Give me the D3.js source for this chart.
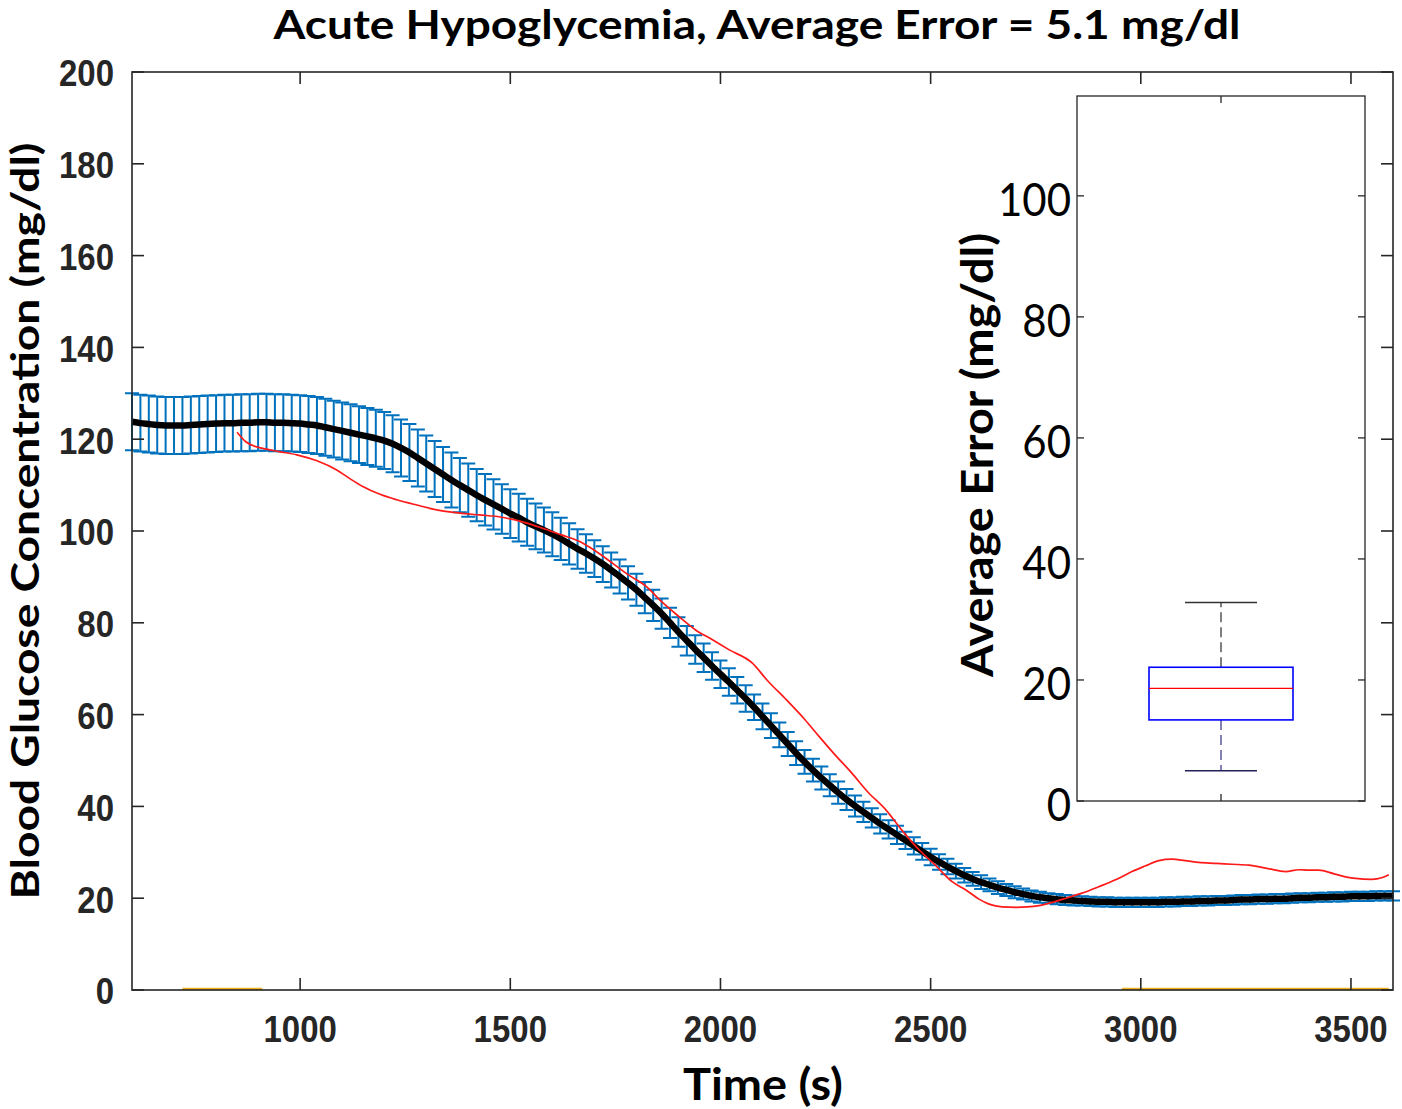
<!DOCTYPE html>
<html><head><meta charset="utf-8">
<script src="https://cdn.jsdelivr.net/npm/d3@7"></script>
<style>body{margin:0;background:#fff}</style>
</head><body><svg id="c" width="1402" height="1109"></svg>
<script>
// ---- data ----
const timeStart = 600, timeStep = 20; // sampling of the mean/error series (s)
const meanGlucose = [
 123.8,123.5,123.3,123.1,123.0,123.0,123.0,123.1,123.2,123.3,
 123.4,123.5,123.5,123.6,123.6,123.7,123.7,123.6,123.6,123.5,
 123.4,123.2,123.0,122.6,122.2,121.8,121.4,121.0,120.6,120.2,
 119.7,119.0,118.1,117.1,115.9,114.7,113.5,112.3,111.1,110.0,
 108.9,107.8,106.8,105.8,104.8,103.8,102.9,101.9,101.0,100.2,
 99.3,98.3,97.2,96.1,95.1,94.0,92.8,91.5,90.1,88.7,
 87.2,85.5,83.8,82.0,80.0,78.0,76.1,74.2,72.4,70.6,
 68.8,67.1,65.3,63.5,61.6,59.6,57.6,55.6,53.6,51.6,
 49.7,47.9,46.2,44.6,43.0,41.5,40.1,38.8,37.5,36.2,
 35.0,33.8,32.6,31.4,30.2,29.0,27.9,26.9,25.9,25.0,
 24.2,23.5,22.9,22.3,21.8,21.3,20.9,20.5,20.2,20.0,
 19.8,19.6,19.5,19.4,19.3,19.2,19.2,19.1,19.1,19.1,
 19.1,19.1,19.1,19.2,19.2,19.3,19.3,19.4,19.4,19.5,
 19.5,19.6,19.7,19.7,19.8,19.8,19.9,19.9,20.0,20.1,
 20.1,20.2,20.2,20.3,20.3,20.4,20.4,20.4,20.5,20.5,
 20.5];
const errorHalf = [
 6.2,6.2,6.2,6.2,6.2,6.2,6.2,6.2,6.2,6.2,
 6.2,6.2,6.2,6.2,6.2,6.2,6.2,6.2,6.2,6.2,
 6.2,6.2,6.2,6.2,6.2,6.2,6.2,6.2,6.2,6.2,
 6.2,6.2,6.2,6.2,6.2,6.1,6.1,6.0,6.0,5.9,
 5.8,5.7,5.6,5.5,5.4,5.3,5.2,5.1,5.0,4.9,
 4.8,4.6,4.5,4.3,4.2,4.0,3.9,3.8,3.7,3.6,
 3.5,3.4,3.4,3.3,3.3,3.2,3.2,3.1,3.1,3.0,
 3.0,3.0,2.9,2.9,2.8,2.8,2.7,2.7,2.6,2.6,
 2.6,2.5,2.5,2.4,2.4,2.3,2.3,2.2,2.1,2.1,
 2.0,2.0,1.9,1.9,1.8,1.8,1.7,1.7,1.6,1.6,
 1.5,1.5,1.4,1.4,1.3,1.3,1.2,1.2,1.2,1.1,
 1.1,1.1,1.1,1.0,1.0,1.0,1.0,1.0,1.0,1.0,
 1.0,1.0,1.0,1.0,1.0,1.0,1.0,1.0,1.0,1.0,
 1.0,1.0,1.0,1.0,1.0,1.0,1.0,1.0,1.0,1.0,
 1.0,1.0,1.0,1.0,1.0,1.0,1.0,1.0,1.0,1.0,
 1.0];
const refTimes = [850,870,890,911,950,992,1040,1087,1120,1149,1190,1230,1280,1325,1380,1427,1480,1529,1580,1620,1665,1700,1743,1780,1824,1860,1902,1940,1981,2021,2076,2110,2157,2200,2235,2270,2313,2350,2394,2430,2473,2510,2551,2584,2615,2639,2670,2703,2730,2758,2790,2822,2860,2900,2940,2979,3010,3043,3074,3105,3138,3180,3216,3257,3300,3345,3376,3400,3423,3460,3490,3511,3549,3575,3590];
const refGlucose = [121.5,119.5,118.5,118.0,117.3,116.6,115.3,113.3,111.3,109.7,108.0,106.8,105.6,104.6,103.9,103.5,103.0,102.0,100.5,99.2,97.7,95.8,93.0,90.5,87.9,84.6,81.3,78.5,76.3,74.1,71.2,67.6,63.2,59.0,55.2,51.5,47.2,43.2,39.2,35.0,30.5,27.3,23.6,21.8,19.8,18.7,18.1,18.0,18.1,18.4,19.1,20.0,21.1,22.5,24.0,25.8,27.0,28.2,28.5,28.2,27.8,27.6,27.4,27.2,26.5,25.8,26.2,26.1,26.1,25.3,24.6,24.3,24.1,24.5,25.1];
const flagSegments = [[720, 910], [2955, 3590]];
const xTicks = [1000, 1500, 2000, 2500, 3000, 3500];
const yTicks = [0, 20, 40, 60, 80, 100, 120, 140, 160, 180, 200];
const insetTicks = [0, 20, 40, 60, 80, 100];
const boxLowerWhisker = 5.0, boxQ1 = 13.4, boxMedian = 18.6, boxQ3 = 22.1, boxUpperWhisker = 32.8;

const titleText = "Acute Hypoglycemia, Average Error = 5.1 mg/dl";
const xLabel = "Time (s)";
const yLabel = "Blood Glucose Concentration (mg/dl)";
const insetYLabel = "Average Error (mg/dl)";

// ---- drawing ----
const svg = d3.select("#c");
const L = 132, R = 1393, T = 72, B = 990;
const x = d3.scaleLinear([600, 3600], [L, R]);
const y = d3.scaleLinear([0, 200], [B, T]);
const axisColor = "#262626";
const data = meanGlucose.map((m, i) => ({t: timeStart + i * timeStep, m, e: errorHalf[i]}));

svg.append("rect").attr("x", L).attr("y", T).attr("width", R - L).attr("height", B - T).attr("fill", "#fff");

// error bars
const eb = svg.append("g").attr("stroke", "#0072BD").attr("stroke-width", 2).attr("fill", "none");
const cap = 7;
eb.selectAll("path").data(data).join("path")
  .attr("d", d => {
    const cx = x(d.t), y1 = y(d.m + d.e), y2 = y(d.m - d.e);
    return `M${cx},${y1}V${y2}M${cx - cap},${y1}H${cx + cap}M${cx - cap},${y2}H${cx + cap}`;
  });

// mean line
svg.append("path").datum(data)
  .attr("d", d3.line().x(d => x(d.t)).y(d => y(d.m)).curve(d3.curveMonotoneX))
  .attr("fill", "none").attr("stroke", "#000").attr("stroke-width", 6.5).attr("stroke-linejoin", "round");

// reference line
svg.append("path").datum(refTimes.map((t, i) => [t, refGlucose[i]]))
  .attr("d", d3.line().x(d => x(d[0])).y(d => y(d[1])).curve(d3.curveMonotoneX))
  .attr("fill", "none").attr("stroke", "#ff1a1a").attr("stroke-width", 1.7);

// flag segments
svg.append("g").selectAll("line").data(flagSegments).join("line")
  .attr("x1", d => x(d[0])).attr("x2", d => x(d[1]))
  .attr("y1", y(0) - 1).attr("y2", y(0) - 1)
  .attr("stroke", "#EDB120").attr("stroke-width", 2.5);

// frame + ticks
svg.append("rect").attr("x", L).attr("y", T).attr("width", R - L).attr("height", B - T)
  .attr("fill", "none").attr("stroke", axisColor).attr("stroke-width", 1.6);
const tk = svg.append("g").attr("stroke", axisColor).attr("stroke-width", 1.6);
const tl = 12;
xTicks.forEach(v => {
  tk.append("line").attr("x1", x(v)).attr("x2", x(v)).attr("y1", B).attr("y2", B - tl);
  tk.append("line").attr("x1", x(v)).attr("x2", x(v)).attr("y1", T).attr("y2", T + tl);
});
yTicks.forEach(v => {
  tk.append("line").attr("x1", L).attr("x2", L + tl).attr("y1", y(v)).attr("y2", y(v));
  tk.append("line").attr("x1", R).attr("x2", R - tl).attr("y1", y(v)).attr("y2", y(v));
});
const tickFont = "'Liberation Sans', Arial, sans-serif";
svg.append("g").selectAll("g").data(yTicks).join("g")
  .attr("transform", v => `translate(114,${y(v) + 1})`)
  .append("text").attr("transform", "scale(1,1.12)").attr("text-anchor", "end").attr("dy", "0.36em")
  .attr("font-family", tickFont).attr("font-weight", "bold").attr("font-size", 33).attr("fill", axisColor)
  .text(v => v);
svg.append("g").selectAll("g").data(xTicks).join("g")
  .attr("transform", v => `translate(${x(v)},1042)`)
  .append("text").attr("transform", "scale(1,1.12)").attr("text-anchor", "middle")
  .attr("font-family", tickFont).attr("font-weight", "bold").attr("font-size", 33).attr("fill", axisColor)
  .text(v => v);

// titles
const labFont = "Lato, 'Open Sans', sans-serif";
svg.append("text").attr("x", 757).attr("y", 39).attr("text-anchor", "middle")
  .attr("font-family", labFont).attr("font-weight", "bold").attr("font-size", 40)
  .attr("textLength", 967).attr("lengthAdjust", "spacingAndGlyphs").text(titleText);
svg.append("text").attr("x", 763).attr("y", 1100).attr("text-anchor", "middle")
  .attr("font-family", labFont).attr("font-weight", "bold").attr("font-size", 44)
  .attr("textLength", 160).attr("lengthAdjust", "spacingAndGlyphs").text(xLabel);
svg.append("text").attr("transform", "translate(39,521) rotate(-90)").attr("text-anchor", "middle")
  .attr("font-family", labFont).attr("font-weight", "bold").attr("font-size", 39)
  .attr("textLength", 757).attr("lengthAdjust", "spacingAndGlyphs").text(yLabel);

// ---- inset box plot ----
const IL = 1077, IR = 1365, IT = 96, IB = 801;
const ix = d3.scaleLinear([0.5, 1.5], [IL, IR]);
const iy = d3.scaleLinear([0, 116.5], [IB, IT]);
svg.append("rect").attr("x", IL).attr("y", IT).attr("width", IR - IL).attr("height", IB - IT)
  .attr("fill", "#fff").attr("stroke", axisColor).attr("stroke-width", 1.3);
const itk = svg.append("g").attr("stroke", axisColor).attr("stroke-width", 1.3);
insetTicks.forEach(v => {
  itk.append("line").attr("x1", IL).attr("x2", IL + 7).attr("y1", iy(v)).attr("y2", iy(v));
  itk.append("line").attr("x1", IR).attr("x2", IR - 7).attr("y1", iy(v)).attr("y2", iy(v));
});
itk.append("line").attr("x1", ix(1)).attr("x2", ix(1)).attr("y1", IB).attr("y2", IB - 7);
itk.append("line").attr("x1", ix(1)).attr("x2", ix(1)).attr("y1", IT).attr("y2", IT + 7);
svg.append("g").selectAll("g").data(insetTicks).join("g")
  .attr("transform", v => `translate(1071,${iy(v) + 3})`)
  .append("text").attr("transform", "scale(1,1.12)").attr("text-anchor", "end").attr("dy", "0.36em")
  .attr("font-family", labFont).attr("font-size", 42).attr("fill", "#000")
  .text(v => v);
svg.append("text").attr("transform", "translate(993,455) rotate(-90)").attr("text-anchor", "middle")
  .attr("font-family", labFont).attr("font-weight", "bold").attr("font-size", 43)
  .attr("textLength", 444).attr("lengthAdjust", "spacingAndGlyphs").text(insetYLabel);

// whiskers
svg.append("line").attr("x1", ix(1)).attr("x2", ix(1)).attr("y1", iy(boxQ3)).attr("y2", iy(boxUpperWhisker))
  .attr("stroke", "#555").attr("stroke-width", 1.5).attr("stroke-dasharray", "10,5");
svg.append("line").attr("x1", ix(1)).attr("x2", ix(1)).attr("y1", iy(boxQ1)).attr("y2", iy(boxLowerWhisker))
  .attr("stroke", "#5a5a9a").attr("stroke-width", 1.5).attr("stroke-dasharray", "10,5");
svg.append("line").attr("x1", ix(0.875)).attr("x2", ix(1.125)).attr("y1", iy(boxUpperWhisker)).attr("y2", iy(boxUpperWhisker))
  .attr("stroke", "#333").attr("stroke-width", 1.5);
svg.append("line").attr("x1", ix(0.875)).attr("x2", ix(1.125)).attr("y1", iy(boxLowerWhisker)).attr("y2", iy(boxLowerWhisker))
  .attr("stroke", "#22225a").attr("stroke-width", 1.5);
svg.append("rect").attr("x", ix(0.75)).attr("width", ix(1.25) - ix(0.75))
  .attr("y", iy(boxQ3)).attr("height", iy(boxQ1) - iy(boxQ3))
  .attr("fill", "none").attr("stroke", "#0000ff").attr("stroke-width", 1.6);
svg.append("line").attr("x1", ix(0.75)).attr("x2", ix(1.25)).attr("y1", iy(boxMedian)).attr("y2", iy(boxMedian))
  .attr("stroke", "#ff0000").attr("stroke-width", 1.2);
</script></body></html>
